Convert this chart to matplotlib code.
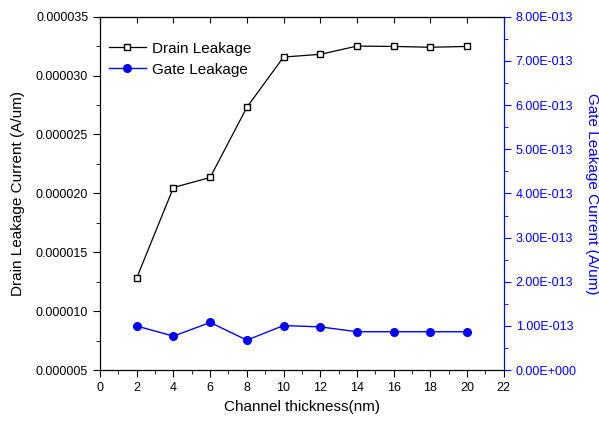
import numpy as np
import matplotlib
matplotlib.use("Agg")
from matplotlib import pyplot as plt
from matplotlib.ticker import MultipleLocator, FuncFormatter

plt.rcParams['font.family'] = ['Liberation Sans', 'DejaVu Sans']

# data
thickness = [2, 4, 6, 8, 10, 12, 14, 16, 18, 20]
drain_leak = [12.83e-6, 20.5e-6, 21.35e-6, 27.3e-6, 31.57e-6, 31.8e-6,
              32.5e-6, 32.47e-6, 32.4e-6, 32.47e-6]
gate_leak = [1.00e-13, 0.77e-13, 1.08e-13, 0.68e-13, 1.01e-13, 0.98e-13,
             0.87e-13, 0.87e-13, 0.87e-13, 0.87e-13]

fig = plt.figure(figsize=(5.99, 4.26), dpi=100)
ax = fig.add_axes([0.167, 0.131, 0.674, 0.830])

l1, = ax.plot(thickness, drain_leak, color='black', lw=0.9, marker='s',
              ms=4.5, mfc='white', mec='black', mew=1.0, label='Drain Leakage')
ax.set_xlim(0, 22)
ax.set_ylim(0.000005, 0.000035)
ax.xaxis.set_major_locator(MultipleLocator(2))
ax.xaxis.set_minor_locator(MultipleLocator(1))
ax.yaxis.set_major_locator(MultipleLocator(0.000005))
ax.yaxis.set_minor_locator(MultipleLocator(0.0000025))
ax.yaxis.set_major_formatter(FuncFormatter(lambda v, p: "%.6f" % v))
ax.tick_params(which='major', direction='out', length=5, labelsize=9)
ax.tick_params(which='minor', direction='out', length=3)
ax.set_xlabel("Channel thickness(nm)", fontsize=11)
ax.set_ylabel("Drain Leakage Current (A/um)", fontsize=11, labelpad=8)

top = ax.secondary_xaxis('top')
top.xaxis.set_major_locator(MultipleLocator(2))
top.tick_params(direction='in', length=4, labeltop=False)

ax2 = ax.twinx()
l2, = ax2.plot(thickness, gate_leak, color='blue', lw=1.0, marker='o',
               ms=5.5, mfc='blue', mec='blue', label='Gate Leakage')
ax2.set_ylim(0, 8e-13)
ax2.yaxis.set_major_locator(MultipleLocator(1e-13))
ax2.yaxis.set_minor_locator(MultipleLocator(0.5e-13))

def sci(v, p):
    m, e = ("%.2E" % v).split("E")
    return "%sE%s%03d" % (m, e[0], abs(int(e)))

ax2.yaxis.set_major_formatter(FuncFormatter(sci))
for a in (ax, ax2):
    a.yaxis.get_offset_text().set_visible(False)
    a.yaxis.get_offset_text().set_fontsize(1)
ax2.tick_params(which='major', direction='out', length=5, labelsize=9,
                colors='blue')
ax2.tick_params(which='minor', direction='out', length=3, colors='blue')
ax2.spines['right'].set_color('blue')
ax2.set_ylabel("Gate Leakage Current (A/um)", fontsize=11, color='blue',
               rotation=270, labelpad=16)

ax.legend([l1, l2], ['Drain Leakage', 'Gate Leakage'], loc='upper left',
          bbox_to_anchor=(0.007, 0.946), borderaxespad=0, frameon=False,
          fontsize=11, handlelength=2.4, handletextpad=0.4, labelspacing=0.45)

fig.savefig("out.png", dpi=100)
